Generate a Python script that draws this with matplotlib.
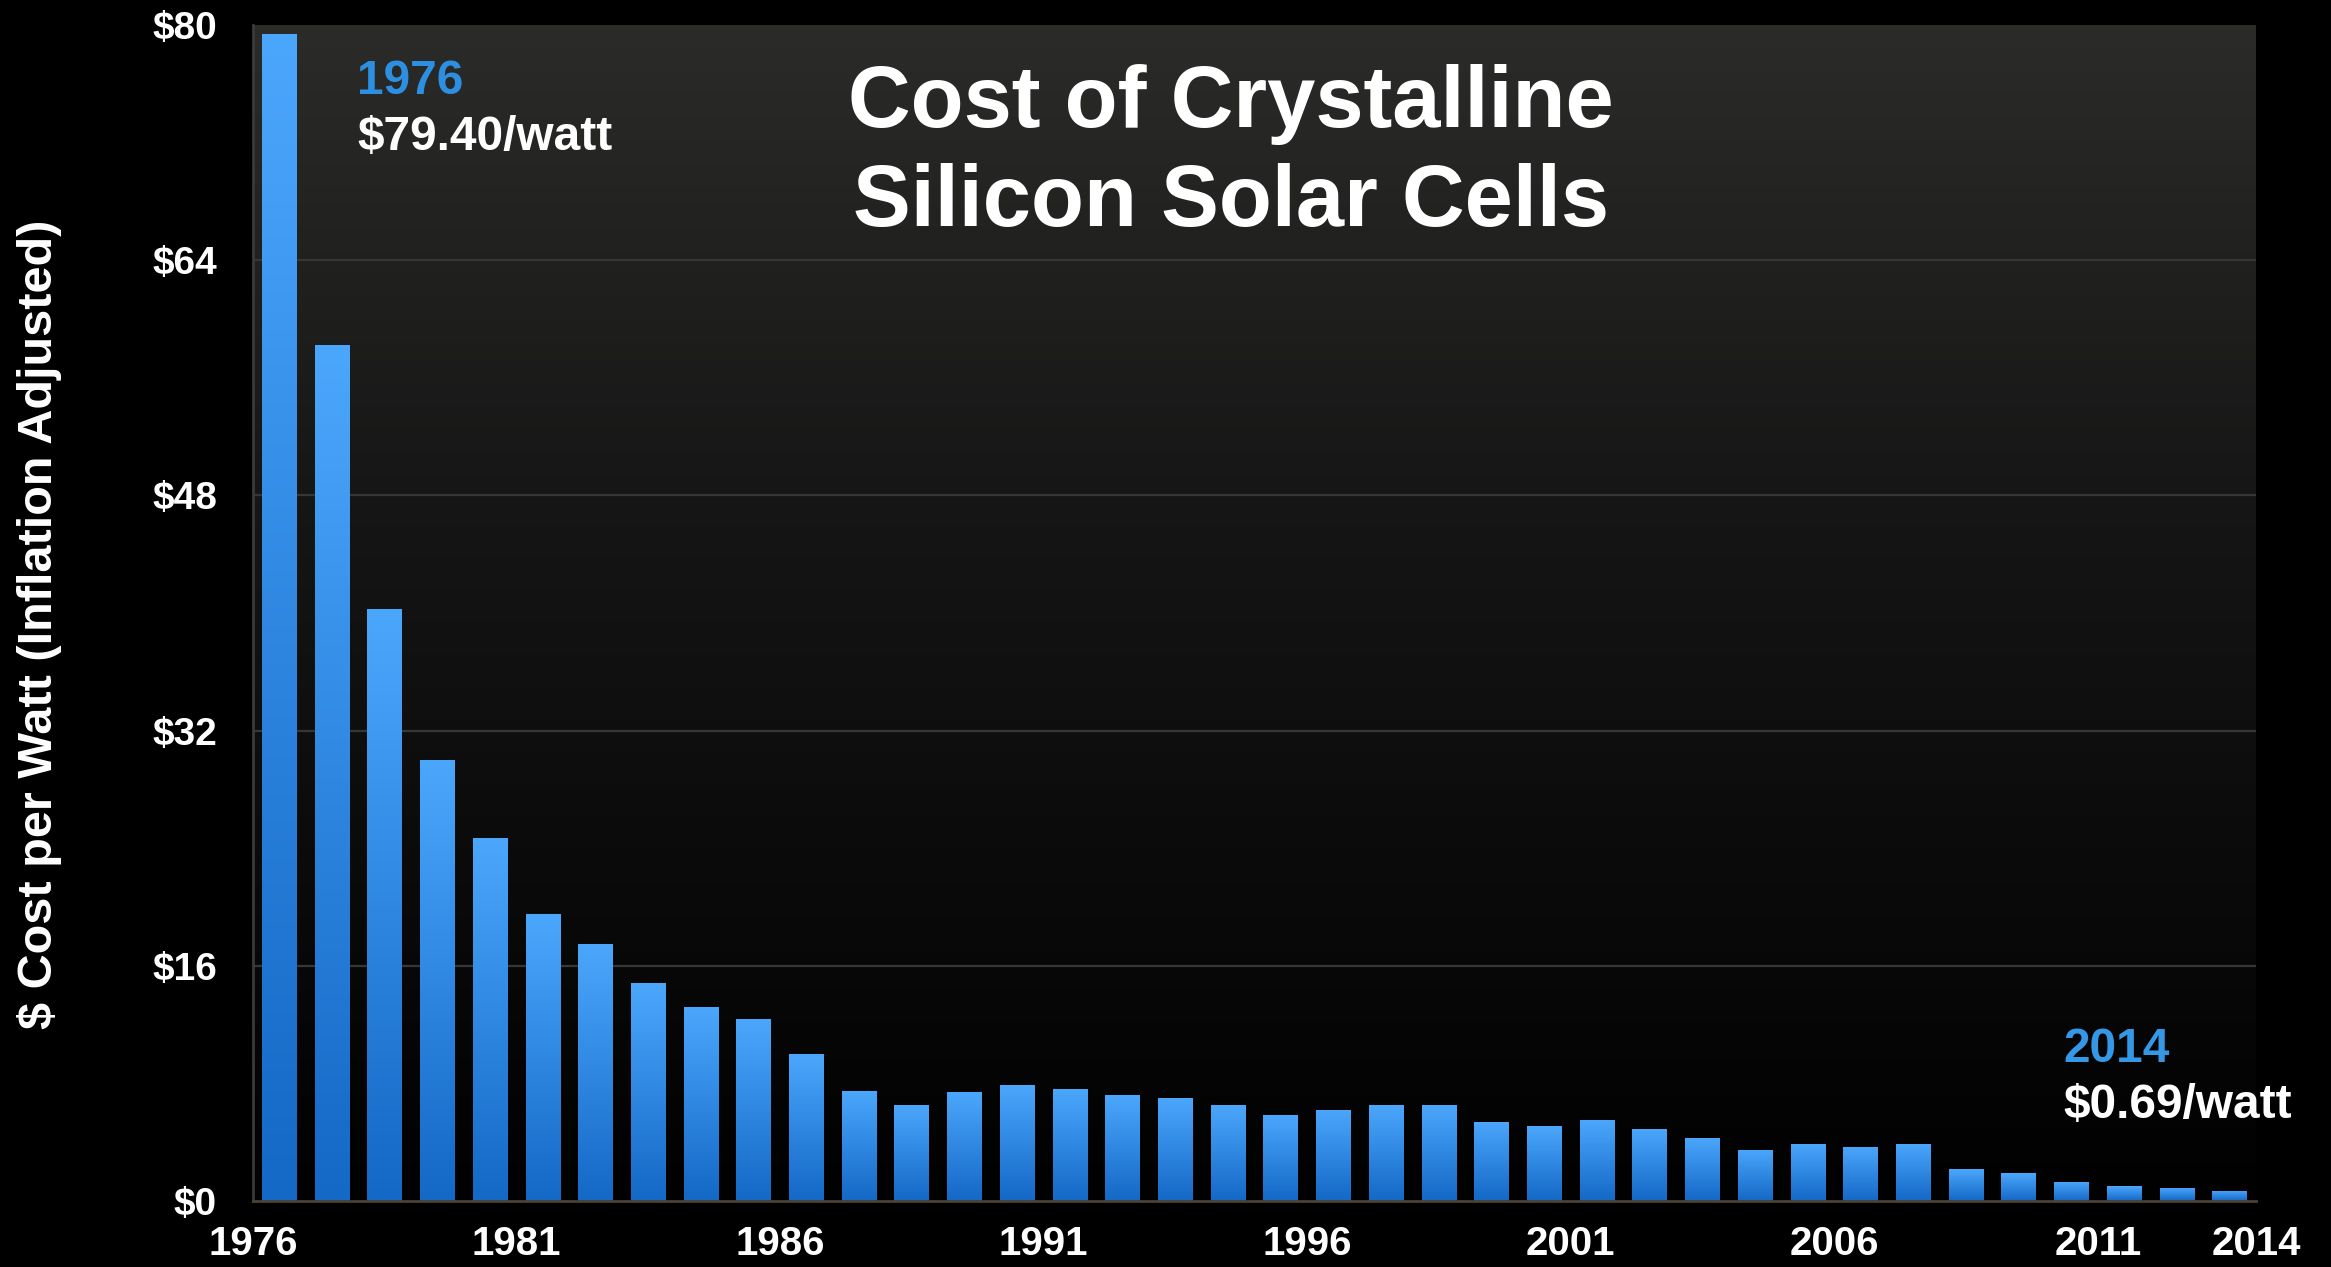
import numpy as np
import matplotlib.pyplot as plt
from matplotlib.colors import LinearSegmentedColormap

plt.rcParams['font.family'] = ['Liberation Sans', 'DejaVu Sans']

# Cost per watt, one bar per year slot
cost = [79.4, 58.2, 40.3, 30.0, 24.7, 19.5, 17.5, 14.8, 13.2, 12.4,
        10.0, 7.5, 6.5, 7.4, 7.9, 7.6, 7.2, 7.0, 6.5, 5.85,
        6.2, 6.5, 6.5, 5.4, 5.1, 5.5, 4.9, 4.3, 3.5, 3.9,
        3.7, 3.9, 2.15, 1.9, 1.3, 1.0, 0.9, 0.69]
start_year = 1976
end_year = 2014
year_ticks = [1976, 1981, 1986, 1991, 1996, 2001, 2006, 2011, 2014]
y_ticks = [0, 16, 32, 48, 64, 80]
y_labels = ['$0', '$16', '$32', '$48', '$64', '$80']

W, H = 2331, 1267
fig = plt.figure(figsize=(W / 100, H / 100), dpi=100, facecolor='black')
ax = fig.add_axes([253 / W, 1 - 1201 / H, (2256 - 253) / W, (1201 - 25) / H])
ax.set_facecolor('black')

# background gradient of plot area
bg_cmap = LinearSegmentedColormap.from_list(
    'bg', [(0, '#010101'), (0.3, '#0b0b0b'), (0.6, '#161616'), (1, '#2b2b29')])
grad = np.linspace(0, 1, 256).reshape(-1, 1)
ax.imshow(grad, cmap=bg_cmap, origin='lower', aspect='auto',
          extent=[start_year, end_year, 0, 80], zorder=0)

for yv in y_ticks[1:-1]:
    ax.axhline(yv, color='#363636', lw=1.6, zorder=1)

# bars with vertical gradient
bar_cmap = LinearSegmentedColormap.from_list('bar', ['#1468c6', '#4ba7fc'])
xs = np.arange(len(cost)) + start_year + 0.5
width = 0.66
bars = ax.bar(xs, cost, width=width, color='none', zorder=2)
for b, x, h in zip(bars, xs, cost):
    im = ax.imshow(grad, cmap=bar_cmap, origin='lower', aspect='auto',
                   extent=[x - width / 2, x + width / 2, 0, h], zorder=2)
    im.set_clip_path(b)

ax.set_xlim(start_year, end_year)
ax.set_ylim(0, 80)

ax.set_yticks(y_ticks)
ax.set_yticklabels(y_labels)
ax.set_xticks(year_ticks)
ax.set_xticklabels([str(y) for y in year_ticks])
ax.tick_params(axis='y', length=0, pad=26, labelsize=28, labelcolor='white')
ax.tick_params(axis='x', length=0, pad=17, labelsize=29, labelcolor='white')
for lab in ax.get_xticklabels() + ax.get_yticklabels():
    lab.set_fontweight('bold')

for s in ['top', 'right']:
    ax.spines[s].set_visible(False)
ax.spines['left'].set_color('#3a3a3a')
ax.spines['left'].set_linewidth(2)
ax.spines['bottom'].set_color('#4a4234')
ax.spines['bottom'].set_linewidth(2)
ax.spines['bottom'].set_zorder(3)

fig.text(0.0168, 1 - 624 / H, '$ Cost per Watt (Inflation Adjusted)', rotation=90,
         ha='center', va='center', color='white', fontsize=35, fontweight='bold')

fig.text(1231 / W, 1 - 154 / H, 'Cost of Crystalline\nSilicon Solar Cells',
         ha='center', va='center', color='white', fontsize=62.5, fontweight='bold',
         linespacing=1.27)

fig.text(357 / W, 1 - 81 / H, '1976', ha='left', va='center',
         color='#2d8fe2', fontsize=34.5, fontweight='bold')
fig.text(357 / W, 1 - 138 / H, '$79.40/watt', ha='left', va='center',
         color='white', fontsize=34.5, fontweight='bold')
fig.text(2063 / W, 1 - 1049 / H, '2014', ha='left', va='center',
         color='#3598e6', fontsize=34.5, fontweight='bold')
fig.text(2063 / W, 1 - 1105 / H, '$0.69/watt', ha='left', va='center',
         color='white', fontsize=34.5, fontweight='bold')

fig.savefig('out.png', dpi=100, facecolor='black')
